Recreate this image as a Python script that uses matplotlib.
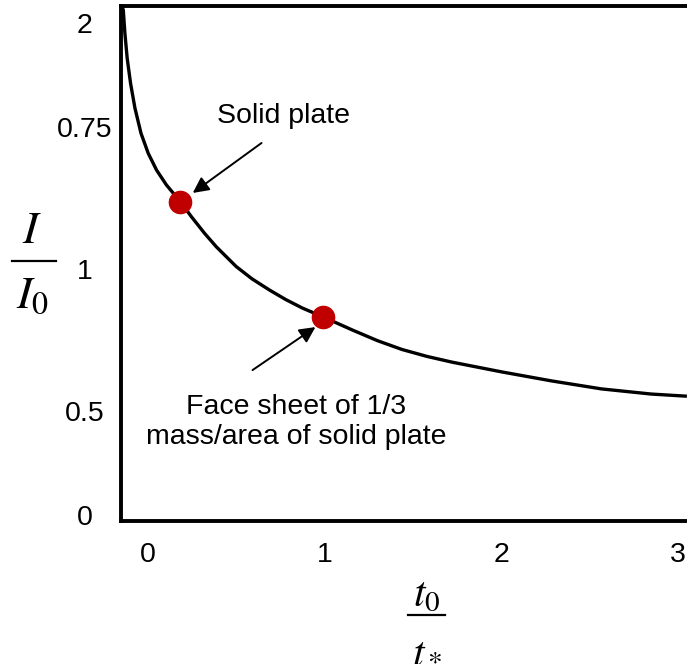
import matplotlib.pyplot as plt
from matplotlib.lines import Line2D

plt.rcParams['font.family'] = ['Liberation Sans', 'DejaVu Sans']
plt.rcParams['mathtext.fontset'] = 'stix'

# curve (t0/t*, I/I0 in plot units)
t_ratio = [-0.143, -0.139, -0.130, -0.117, -0.098, -0.073, -0.039, 0.002, 0.049,
           0.105, 0.184, 0.246, 0.321, 0.387, 0.50, 0.59, 0.688, 0.78, 0.874,
           0.993, 1.156, 1.30, 1.438, 1.58, 1.72, 2.002, 2.284, 2.566, 2.848, 3.04]
impulse = [1.992, 1.984, 1.894, 1.797, 1.70, 1.603, 1.506, 1.428, 1.363,
           1.305, 1.24, 1.182, 1.117, 1.065, 0.988, 0.94, 0.897, 0.86, 0.827,
           0.792, 0.742, 0.70, 0.666, 0.639, 0.617, 0.579, 0.544, 0.513, 0.493, 0.485]

# the two marked cases
pts_x = [0.184, 0.993]
pts_y = [1.24, 0.792]

x_ticks = [0, 1, 2, 3]
y_tick_pos = [0.023, 0.429, 0.98, 1.53, 1.935]
y_tick_labels = ['0', '0.5', '1', '0.75', '2']

W, H = 687, 671
fig = plt.figure(figsize=(W / 100, H / 100), dpi=100)
ax = fig.add_axes([121 / W, 1 - 521 / H, 1 - 121 / W, (521 - 6) / H])

ax.plot(t_ratio, impulse, color='black', lw=2.4, zorder=2,
        solid_joinstyle='round')
ax.plot(pts_x, pts_y, 'o', color='#c00000', ms=16, zorder=3)

ax.set_xlim(-0.152, 3.05)
ax.set_ylim(0, 2.0)
ax.set_xticks(x_ticks)
ax.set_yticks(y_tick_pos)
ax.set_yticklabels(y_tick_labels)
ax.tick_params(axis='both', length=0, labelsize=20.5)
ax.tick_params(axis='x', pad=15)
ax.tick_params(axis='y', pad=26)
for lab in ax.get_yticklabels():
    lab.set_horizontalalignment('center')

for s in ['left', 'bottom', 'top']:
    ax.spines[s].set_linewidth(2.8)
ax.spines['right'].set_visible(False)

arrow = dict(arrowstyle='-|>', color='black', lw=1.4, mutation_scale=24,
             shrinkA=0, shrinkB=0)
ax.text(0.767, 1.573, 'Solid plate', fontsize=20.5, ha='center', va='center')
ax.annotate('', xy=(0.254, 1.274), xytext=(0.643, 1.468), arrowprops=arrow)
ax.annotate('', xy=(0.948, 0.753), xytext=(0.592, 0.586), arrowprops=arrow)
ax.text(0.84, 0.384, 'Face sheet of 1/3\nmass/area of solid plate',
        fontsize=20.5, ha='center', va='center', linespacing=1.2)


def fx(px):
    return px / W


def fy(py):
    return 1 - py / H


# y label as a stacked fraction
fig.text(fx(32), fy(243), r'$I$', fontsize=33, ha='center', va='baseline')
fig.add_artist(Line2D([fx(12), fx(56)], [fy(261), fy(261)], color='black', lw=1.6))
fig.text(fx(32), fy(308), r'$I_0$', fontsize=33, ha='center', va='baseline')

# x label as a stacked fraction
fig.text(fx(427), fy(605), r'$t_0$', fontsize=30, ha='center', va='baseline')
fig.add_artist(Line2D([fx(408), fx(445)], [fy(615), fy(615)], color='black', lw=1.6))
fig.text(fx(427), fy(670), r'$t_*$', fontsize=30, ha='center', va='bottom')

fig.savefig('out.png', dpi=100)
